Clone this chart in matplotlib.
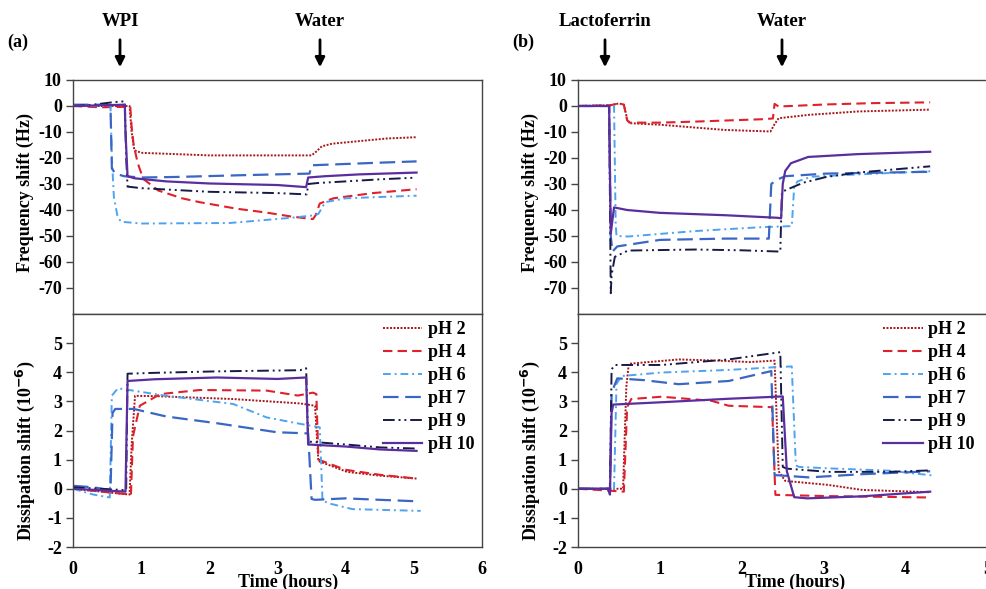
import matplotlib
matplotlib.use('Agg')
from matplotlib import pyplot as plt

# (time in hours, value) pairs
PH_LABELS = ['pH 2', 'pH 4', 'pH 6', 'pH 7', 'pH 9', 'pH 10']

# (a) WPI - frequency shift (Hz)
wpi_freq_ph2 = [(0, 0), (0.83, 0), (0.86, -10), (0.9, -17), (1.0, -18), (1.5, -18.5), (2.0, -19),
                (3.0, -19), (3.5, -19), (3.57, -17.5), (3.65, -15.5), (3.8, -14.5), (4.2, -13.5),
                (4.6, -12.5), (5.04, -12)]
wpi_freq_ph4 = [(0, 0), (0.4, -0.5), (0.8, -0.3), (0.84, 0), (0.86, -8), (0.89, -15), (0.95, -22),
                (1.03, -28), (1.25, -32.5), (1.6, -35.5), (1.86, -37), (2.4, -39.5), (2.84, -41),
                (3.2, -42.5), (3.52, -43.5), (3.56, -42), (3.62, -37.5), (3.82, -35.5), (4.4, -33.5),
                (5.04, -32)]
wpi_freq_ph6 = [(0, 0), (0.55, 0), (0.57, -20), (0.6, -35), (0.65, -42), (0.7, -44.5), (1.0, -45.2),
                (2.3, -45), (3.2, -43), (3.55, -42), (3.6, -41.5), (3.7, -37), (4.0, -35.5),
                (4.5, -35), (5.04, -34.5)]
wpi_freq_ph7 = [(0, 0.5), (0.5, 0.5), (0.55, 0), (0.57, -24), (0.62, -26), (0.75, -27), (1.0, -27.5),
                (1.5, -27.3), (2.5, -26.6), (3.47, -26), (3.5, -22.8), (4.0, -22.3), (4.5, -21.8),
                (5.04, -21.3)]
wpi_freq_ph9 = [(0, 0), (0.3, 0.5), (0.6, 1.5), (0.76, 1.8), (0.78, -20), (0.8, -31), (1.0, -31.6),
                (2.0, -33), (3.0, -33.5), (3.43, -34), (3.45, -30), (3.6, -29.6), (4.0, -29),
                (4.5, -28.2), (5.0, -27.6)]
wpi_freq_ph10 = [(0, 0), (0.76, 0.5), (0.77, -10), (0.8, -27), (0.9, -27.8), (1.37, -29), (2.0, -29.8),
                 (3.0, -30.4), (3.42, -31.2), (3.45, -27.5), (3.7, -27), (4.2, -26.3), (5.04, -25.6)]

# (a) WPI - dissipation shift (1e-6)
wpi_diss_ph2 = [(0, 0), (0.83, -0.2), (0.86, 1.5), (0.91, 3.19), (1.2, 3.18), (2.35, 3.08), (3.33, 2.93),
                (3.55, 2.85), (3.6, 0.95), (4.02, 0.58), (4.5, 0.45), (5.04, 0.35)]
wpi_diss_ph4 = [(0, 0), (0.85, -0.2), (0.88, 1.8), (0.98, 2.85), (1.28, 3.25), (1.86, 3.39),
                (2.84, 3.37), (3.3, 3.2), (3.52, 3.3), (3.57, 3.25), (3.6, 1.0), (4.0, 0.65),
                (4.5, 0.48), (5.04, 0.35)]
wpi_diss_ph6 = [(0, 0), (0.3, -0.2), (0.54, -0.3), (0.57, 3.2), (0.66, 3.45), (1.37, 3.19),
                (2.35, 2.91), (2.84, 2.45), (3.33, 2.23), (3.62, 2.11), (3.66, -0.4), (3.75, -0.5),
                (4.1, -0.7), (5.1, -0.76)]
wpi_diss_ph7 = [(0, 0.1), (0.3, 0.05), (0.55, -0.05), (0.58, 2.6), (0.62, 2.74), (0.89, 2.74),
                (1.37, 2.48), (2.11, 2.25), (2.99, 1.94), (3.45, 1.9), (3.5, -0.35), (3.55, -0.38),
                (4.0, -0.33), (4.5, -0.38), (5.04, -0.43)]
wpi_diss_ph9 = [(0, 0.05), (0.4, 0), (0.78, -0.05), (0.8, 3.95), (1.2, 3.98), (2.1, 4.03), (3.33, 4.07),
                (3.42, 4.14), (3.45, 1.62), (4.0, 1.52), (4.5, 1.42), (5.04, 1.38)]
wpi_diss_ph10 = [(0, 0), (0.4, -0.05), (0.77, -0.1), (0.8, 3.7), (1.2, 3.76), (2.11, 3.82),
                 (3.0, 3.77), (3.42, 3.82), (3.45, 1.52), (4.0, 1.45), (4.5, 1.35), (5.04, 1.3)]

# (b) Lactoferrin - frequency shift (Hz)
lf_freq_ph2 = [(0, 0), (0.4, 0.3), (0.5, 1), (0.56, 0.5), (0.6, -5), (0.63, -6.6), (1.0, -7.2),
               (1.79, -9.2), (2.35, -9.8), (2.4, -7), (2.45, -4.7), (2.82, -3.4), (3.42, -2.1),
               (4.3, -1.4)]
lf_freq_ph4 = [(0, 0), (0.4, 0.3), (0.5, 1), (0.56, 0.5), (0.6, -5.5), (0.63, -6.4), (1.0, -6.4),
               (1.43, -6), (2.24, -5.1), (2.38, -4.8), (2.4, 0.8), (2.45, -0.2), (3.03, 0.6),
               (3.6, 1.1), (4.3, 1.4)]
lf_freq_ph6 = [(0, 0), (0.44, 0), (0.46, -45), (0.47, -50), (0.61, -50.2), (1.43, -48.1),
               (2.24, -46.6), (2.61, -46.2), (2.64, -31), (2.68, -29), (2.85, -27.2), (3.42, -26.3),
               (4.3, -25.1)]
lf_freq_ph7 = [(0, 0), (0.38, 0), (0.4, -50), (0.42, -56), (0.48, -54), (1.0, -51.5), (1.79, -51),
               (2.33, -51), (2.36, -30), (2.42, -28.5), (2.53, -27), (3.03, -26), (4.3, -25.3)]
lf_freq_ph9 = [(0, 0), (0.38, 0), (0.4, -72), (0.41, -65), (0.45, -58), (0.61, -55.6), (1.43, -55.2),
               (2.0, -55.5), (2.47, -56), (2.49, -33), (2.6, -31.5), (2.75, -29.5), (3.03, -27.3),
               (3.42, -25.6), (4.3, -23.2)]
lf_freq_ph10 = [(0, 0), (0.38, 0), (0.4, -49), (0.42, -44), (0.44, -39), (0.6, -40), (1.0, -41.1),
                (1.79, -42), (2.44, -43), (2.48, -43.2), (2.5, -30), (2.53, -25), (2.6, -22),
                (2.81, -19.6), (3.42, -18.5), (4.3, -17.6)]

# (b) Lactoferrin - dissipation shift (1e-6)
lf_diss_ph2 = [(0, 0), (0.55, 0), (0.59, 3.5), (0.62, 4.29), (1.23, 4.44), (1.7, 4.4), (2.1, 4.35),
               (2.4, 4.4), (2.45, 0.6), (2.53, 0.27), (3.06, 0.13), (3.47, -0.04), (4.3, -0.12)]
lf_diss_ph4 = [(0, 0), (0.3, -0.05), (0.56, -0.1), (0.6, 2.8), (0.65, 3.08), (1.02, 3.16),
               (1.63, 3.02), (1.84, 2.85), (2.37, 2.8), (2.41, -0.21), (3.0, -0.25), (4.3, -0.3)]
lf_diss_ph6 = [(0, 0), (0.44, 0), (0.47, 3.6), (0.53, 3.87), (1.02, 3.99), (1.84, 4.08),
               (2.45, 4.18), (2.61, 4.2), (2.66, 0.8), (2.7, 0.75), (3.06, 0.7), (3.8, 0.62),
               (4.35, 0.45)]
lf_diss_ph7 = [(0, 0), (0.39, 0), (0.41, 3.3), (0.48, 3.79), (0.8, 3.73), (1.23, 3.59), (1.84, 3.7),
               (2.36, 4.04), (2.4, 0.47), (2.82, 0.39), (3.47, 0.5), (4.3, 0.6)]
lf_diss_ph9 = [(0, 0), (0.39, 0), (0.41, 4.1), (0.45, 4.25), (1.02, 4.25), (1.84, 4.44),
               (2.47, 4.69), (2.5, 0.75), (2.55, 0.69), (3.06, 0.58), (3.8, 0.58), (4.3, 0.63)]
lf_diss_ph10 = [(0, 0), (0.37, 0), (0.39, -0.2), (0.41, 2.6), (0.43, 2.89), (1.02, 2.97),
                (1.84, 3.09), (2.5, 3.17), (2.55, 0.6), (2.64, -0.29), (2.8, -0.33), (3.47, -0.26),
                (4.3, -0.1)]

COLORS = ['#A8161A', '#E0202A', '#4DA3F2', '#3A66C4', '#161A45', '#5A2E9E']
STYLES = [(0, (1, 0.8)), (0, (4.5, 2.5)), (0, (4, 2, 1, 2)), (0, (7, 3)),
          (0, (6, 2, 1, 2, 1, 2)), '-']
WIDTHS = [1.4, 1.5, 1.4, 1.6, 1.4, 1.6]

FONT = 'Liberation Serif'
plt.rcParams['font.family'] = FONT
plt.rcParams['font.weight'] = 'bold'
plt.rcParams['axes.unicode_minus'] = False

W, H = 987.0, 589.0


def fx(px):
    return px / W


def fy(py):
    return 1 - py / H


def style_axes(ax, ylim, yticks, xlim, xticks, show_x):
    ax.set_ylim(*ylim)
    ax.set_yticks(yticks)
    ax.set_xlim(*xlim)
    ax.set_xticks(xticks)
    for s in ax.spines.values():
        s.set_color('#444444')
        s.set_linewidth(1.0)
    ax.tick_params(axis='y', direction='out', length=5, width=1, color='#444444',
                   labelsize=13, pad=3)
    ax.tick_params(axis='x', length=0, labelsize=13, pad=10)
    if not show_x:
        ax.tick_params(axis='x', labelbottom=False)
    for lab in ax.get_xticklabels() + ax.get_yticklabels():
        lab.set_fontweight('bold')


def draw(ax, series):
    for i, s in enumerate(series):
        t = [p[0] for p in s]
        v = [p[1] for p in s]
        ax.plot(t, v, color=COLORS[i], linestyle=STYLES[i], lw=WIDTHS[i], label=PH_LABELS[i])


fig = plt.figure(figsize=(9.87, 5.89), dpi=100)

panels = [
    dict(x0=73, x1=482, xmax=6, freq=[wpi_freq_ph2, wpi_freq_ph4, wpi_freq_ph6, wpi_freq_ph7,
                                      wpi_freq_ph9, wpi_freq_ph10],
         diss=[wpi_diss_ph2, wpi_diss_ph4, wpi_diss_ph6, wpi_diss_ph7, wpi_diss_ph9, wpi_diss_ph10],
         tag='(a)', tagx=7, ylabx=25, timex=288, legx=0.757,
         marks=[('WPI', 120), ('Water', 320)]),
    dict(x0=578, x1=987.5, xmax=5, freq=[lf_freq_ph2, lf_freq_ph4, lf_freq_ph6, lf_freq_ph7,
                                         lf_freq_ph9, lf_freq_ph10],
         diss=[lf_diss_ph2, lf_diss_ph4, lf_diss_ph6, lf_diss_ph7, lf_diss_ph9, lf_diss_ph10],
         tag='(b)', tagx=512, ylabx=530, timex=795, legx=0.745,
         marks=[('Lactoferrin', 605), ('Water', 782)]),
]

top, mid, bot = 80, 314, 547

for p in panels:
    w = fx(p['x1']) - fx(p['x0'])
    ax_f = fig.add_axes([fx(p['x0']), fy(mid), w, fy(top) - fy(mid)])
    ax_d = fig.add_axes([fx(p['x0']), fy(bot), w, fy(mid) - fy(bot)])

    draw(ax_f, p['freq'])
    draw(ax_d, p['diss'])

    style_axes(ax_f, (-80, 10), range(-70, 11, 10), (0, p['xmax']), range(0, p['xmax'] + 1), False)
    style_axes(ax_d, (-2, 6), range(-2, 6), (0, p['xmax']), range(0, p['xmax'] + 1), True)

    fig.text(fx(p['ylabx']), fy(192), 'Frequency shift (Hz)', rotation=90,
             ha='center', va='center', fontsize=13, fontweight='bold')
    fig.text(fx(p['ylabx']), fy(451), 'Dissipation shift (10$^{\\mathbf{-6}}$)',
             rotation=90, ha='center', va='center', fontsize=13, fontweight='bold')
    fig.text(fx(p['timex']), fy(582), 'Time (hours)', ha='center', va='center',
             fontsize=13, fontweight='bold')
    fig.text(fx(p['tagx']), fy(42), p['tag'], ha='left', va='center',
             fontsize=13, fontweight='bold')

    for name, px in p['marks']:
        fig.text(fx(px), fy(22), name, ha='center', va='center', fontsize=13.5, fontweight='bold')
        fig.patches.append(matplotlib.patches.FancyArrowPatch(
            (fx(px), fy(37)), (fx(px), fy(70)), transform=fig.transFigure,
            arrowstyle='-|>', mutation_scale=14, lw=2, color='black'))

    leg = ax_d.legend(loc='upper left', bbox_to_anchor=(p['legx'], 0.968),
                      frameon=False, fontsize=13, handlelength=2.2, handletextpad=0.3,
                      labelspacing=0.33, borderpad=0, borderaxespad=0)
    for txt in leg.get_texts():
        txt.set_fontweight('bold')

fig.savefig('out.png', dpi=100)
plt.close()
